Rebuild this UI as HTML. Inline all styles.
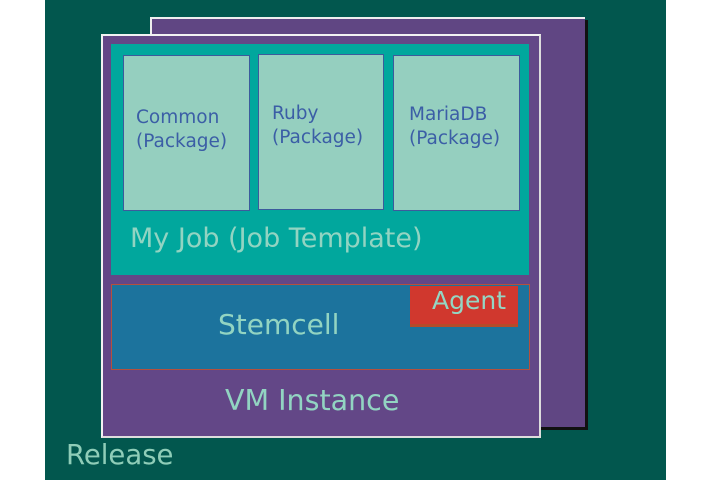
<!DOCTYPE html>
<html><head><style>
body{margin:0;width:720px;height:480px;background:#fff;position:relative;overflow:hidden;font-family:"DejaVu Sans","Liberation Sans",sans-serif}
div{position:absolute;box-sizing:border-box}
.pk{background:#95cfbf;border:1px solid #3c5b9c;color:#3b5ea6;font-size:18.5px;line-height:24px;padding-left:12px}
</style></head><body>
<div style="left:45px;top:0;width:621px;height:480px;background:#02574e"></div>
<div style="left:150px;top:17px;width:435px;height:410px;background:#604683;border-top:2px solid #eee;border-left:2px solid #eee;box-shadow:3px 3px 0 #111"></div>
<div style="left:101px;top:34px;width:440px;height:404px;background:#634787;border:2px solid #f2f2f2;border-right-color:#ddd;border-bottom-color:#ddd"></div>
<div style="left:111px;top:44px;width:418px;height:231px;background:#01a79d"></div>
<div class="pk" style="left:123px;top:55px;width:127px;height:156px;padding-top:50px">Common<br>(Package)</div>
<div class="pk" style="left:258px;top:54px;width:126px;height:156px;padding-top:47px;padding-left:13px">Ruby<br>(Package)</div>
<div class="pk" style="left:393px;top:55px;width:127px;height:156px;padding-top:47px;padding-left:15px">MariaDB<br>(Package)</div>
<div style="left:130px;top:223px;color:#92d4c2;font-size:27px">My Job (Job Template)</div>
<div style="left:111px;top:284px;width:419px;height:86px;background:#1c739d;border:1px solid #b5503d"></div>
<div style="left:218px;top:308px;color:#92d4c2;font-size:28px">Stemcell</div>
<div style="left:410px;top:286px;width:108px;height:41px;background:#d0382e;border-bottom:3px solid #b54b2a;color:#94d6c4;font-size:25px;padding:0 0 0 22px">Agent</div>
<div style="left:225px;top:384px;color:#92d4c2;font-size:28.5px">VM Instance</div>
<div style="left:66px;top:439px;color:#8fcdb8;font-size:27.5px">Release</div>
</body></html>
